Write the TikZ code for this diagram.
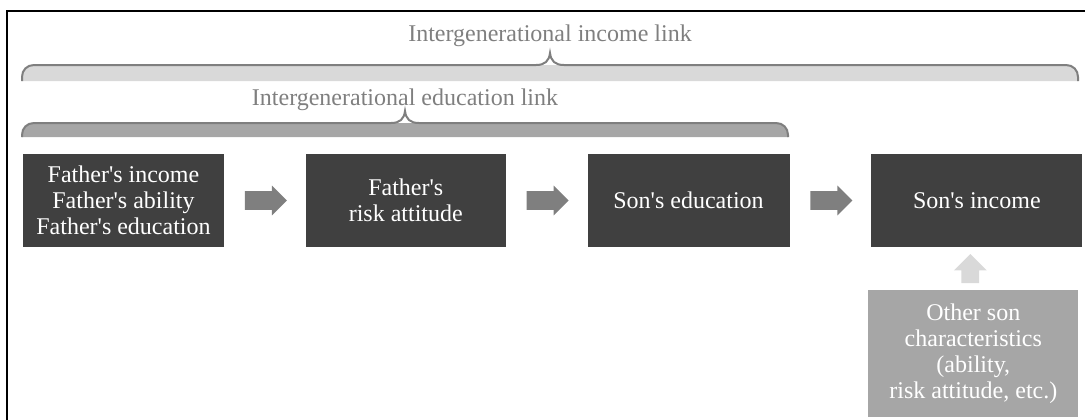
\documentclass[tikz,border=0pt]{standalone}
\usepackage{fontspec}
\setmainfont{Liberation Serif}
\usetikzlibrary{positioning,shapes.arrows}
\definecolor{boxdark}{HTML}{404040}
\definecolor{midgray}{HTML}{7F7F7F}
\definecolor{paleband}{HTML}{D9D9D9}
\definecolor{darkband}{HTML}{A6A6A6}
\newcommand{\q}{\textquotesingle}

\begin{document}
\begin{tikzpicture}[x=0.5pt,y=-0.5pt,
    box/.style={fill=boxdark,text=white,align=center,inner sep=0pt,
        minimum width=100pt,minimum height=46.5pt,font=\fontsize{12}{13}\selectfont},
    blockarrow/.style={single arrow,fill=midgray,inner sep=0pt,
        text width=9pt,text height=9pt,text depth=0pt,minimum height=21pt,
        minimum width=14.5pt,single arrow head extend=2.75pt},
    linklabel/.style={text=midgray,anchor=base,inner sep=0pt,font=\fontsize{12}{13}\selectfont},
    band/.style={draw=midgray,line width=1pt}]
    \useasboundingbox (0,0) rectangle (1085,419);
    \begin{scope}
        \clip (0,0) rectangle (1085,419);
        \draw[line width=0.75pt] (7,11) rectangle (1100,440);
    \end{scope}

    \node[linklabel] (inclab) at (550,41) {Intergenerational income link};
    \node[linklabel] (edulab) at (405,105) {Intergenerational education link};

    \fill[paleband] (22,81) -- (22,77) .. controls (22,70) and (27,65) .. (34,65) -- (1066,65)
        .. controls (1073,65) and (1078,70) .. (1078,77) -- (1078,81) -- cycle;
    \draw[band] (22,81) -- (22,77) .. controls (22,70) and (27,65) .. (34,65) -- (536,65)
        .. controls (545,65) and (549,61) .. (550,53) .. controls (551,61) and (555,65) .. (564,65)
        -- (1066,65) .. controls (1073,65) and (1078,70) .. (1078,77) -- (1078,81);
    \fill[darkband] (22,137) -- (22,135) .. controls (22,128) and (27,123) .. (34,123) -- (776,123)
        .. controls (783,123) and (788,128) .. (788,135) -- (788,137) -- cycle;
    \draw[band] (22,137) -- (22,135) .. controls (22,128) and (27,123) .. (34,123) -- (391,123)
        .. controls (400,123) and (404,119) .. (405,111) .. controls (406,119) and (410,123) .. (419,123)
        -- (776,123) .. controls (783,123) and (788,128) .. (788,135) -- (788,137);

    \node[box,minimum width=100.5pt] (fath) at (123.5,200.5) {Father\q s income\\Father\q s ability\\Father\q s education};
    \node[blockarrow,right=10pt of fath] (a1) {};
    \node[box,right=9pt of a1] (risk) {Father\q s\\risk attitude};
    \node[blockarrow,right=10pt of risk] (a2) {};
    \node[box,minimum width=101pt,right=9pt of a2] (sedu) {Son\q s education};
    \node[blockarrow,right=10pt of sedu] (a3) {};
    \node[box,minimum width=105.5pt,right=9pt of a3] (sinc) {Son\q s income};
    \node[box,fill=darkband,minimum width=105pt,minimum height=63.5pt,
        below=21pt of sinc,xshift=-1.75pt] (other) {Other son\\characteristics\\(ability,\\risk attitude, etc.)};
    \node[blockarrow,fill=paleband,shape border rotate=90,text width=8.5pt,text height=8.5pt,
        minimum height=14.5pt,minimum width=16pt,single arrow head extend=3.75pt,
        above=3pt of other,xshift=-1.5pt] (a4) {};
\end{tikzpicture}
\end{document}
